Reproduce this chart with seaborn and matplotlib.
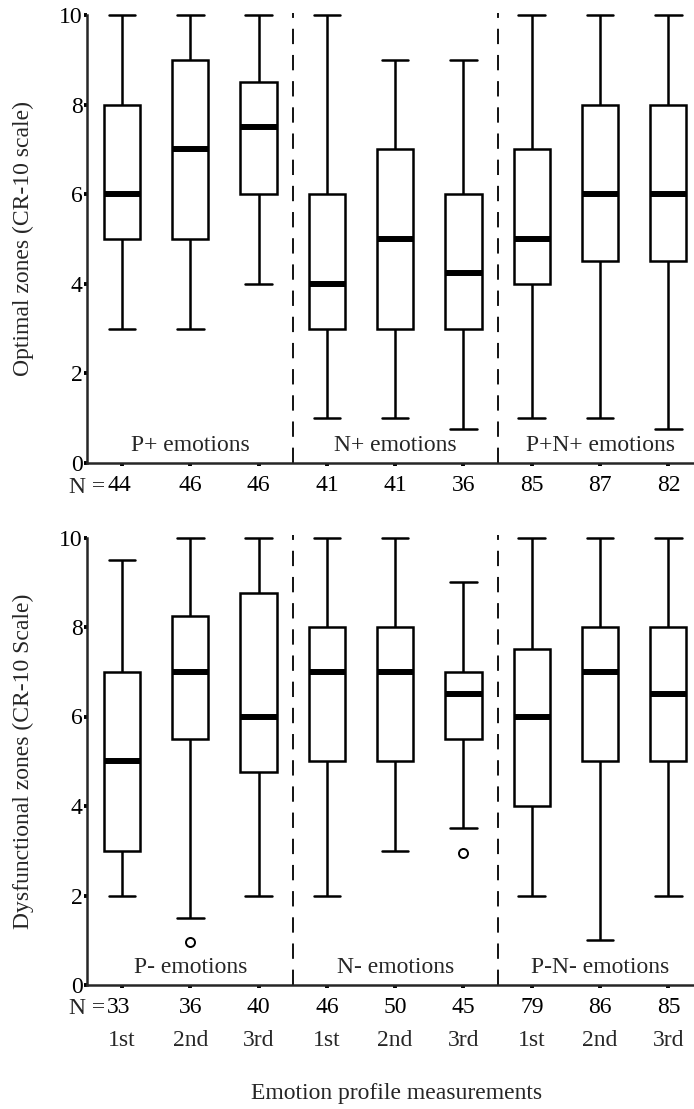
import numpy as np
import pandas as pd
import matplotlib
matplotlib.use("Agg")
import matplotlib.pyplot as plt
import matplotlib.transforms as mtransforms
import seaborn as sns

# ---- data: five-number summaries per emotion profile and measurement ----
measurements = ["1st", "2nd", "3rd"]

optimal_groups = ["P+ emotions", "N+ emotions", "P+N+ emotions"]
optimal_n = [44, 46, 46, 41, 41, 36, 85, 87, 82]
optimal_low = [3, 3, 4, 1, 1, 0.75, 1, 1, 0.75]
optimal_q1 = [5, 5, 6, 3, 3, 3, 4, 4.5, 4.5]
optimal_median = [6, 7, 7.5, 4, 5, 4.25, 5, 6, 6]
optimal_q3 = [8, 9, 8.5, 6, 7, 6, 7, 8, 8]
optimal_high = [10, 10, 10, 10, 9, 9, 10, 10, 10]
optimal_outlier_box = []
optimal_outlier_value = []

dysf_groups = ["P- emotions", "N- emotions", "P-N- emotions"]
dysf_n = [33, 36, 40, 46, 50, 45, 79, 86, 85]
dysf_low = [2, 1.5, 2, 2, 3, 3.5, 2, 1, 2]
dysf_q1 = [3, 5.5, 4.75, 5, 5, 5.5, 4, 5, 5]
dysf_median = [5, 7, 6, 7, 7, 6.5, 6, 7, 6.5]
dysf_q3 = [7, 8.25, 8.75, 8, 8, 7, 7.5, 8, 8]
dysf_high = [9.5, 10, 10, 10, 10, 9, 10, 10, 10]
dysf_outlier_box = [1, 5]
dysf_outlier_value = [0.95, 2.95]

y_ticks = [0, 2, 4, 6, 8, 10]

# ---- style ----
sns.set_style("ticks")
plt.rcParams["font.family"] = ["Liberation Serif", "DejaVu Serif"]
plt.rcParams["font.size"] = 17

W, H = 694, 1109
fig = plt.figure(figsize=(W / 100, H / 100), dpi=100)

AX_LEFT = 87
X_MIN, X_MAX = -0.512, 8.375
Y_TOP = 10.05


def box_names(groups):
    return [f"{g} | {m}" for g in groups for m in measurements]


def draw_panel(ax, groups, n, low, q1, med, q3, high, out_box, out_val,
               ylabel_text, with_order_row):
    names = box_names(groups)
    rows = []
    for i, name in enumerate(names):
        for v in (low[i], q1[i], med[i], q3[i], high[i]):
            rows.append({"box": name, "value": v})
    df = pd.DataFrame(rows)

    sns.boxplot(
        data=df, x="box", y="value", order=names, whis=np.inf,
        width=0.53, color="white", linecolor="black", saturation=1,
        linewidth=1.8, showfliers=False, capwidths=0.39,
        medianprops=dict(linewidth=4.3, color="black"),
        ax=ax,
    )
    if out_box:
        sns.stripplot(
            x=[names[i] for i in out_box], y=out_val, order=names,
            jitter=False, color="white", edgecolor="black", linewidth=1.4,
            size=6.5, ax=ax, zorder=4,
        )

    # separators between the emotion profiles
    for xs in (2.5, 5.5):
        ax.axvline(xs, color="black", lw=1.3, ls=(0, (8.5, 6)), zorder=1)

    for gi, g in enumerate(groups):
        ax.text(1 + 3 * gi, 0.4, g, ha="center", va="center")

    ax.set_xlim(X_MIN, X_MAX)
    ax.set_ylim(0, Y_TOP)
    ax.set_yticks(y_ticks)
    ax.set_yticklabels([str(t) for t in y_ticks])
    ax.set_xticks(range(len(names)))
    ax.set_xticklabels([str(v) for v in n])
    ax.set_xlabel("")
    ax.set_ylabel("")

    sns.despine(ax=ax)
    ax.spines["left"].set_bounds(0, 10)
    for s in ("left", "bottom"):
        ax.spines[s].set_linewidth(1.8)
    ax.tick_params(axis="both", direction="out", length=2.3, width=2.8,
                   color="black", labelcolor="black")
    ax.tick_params(axis="y", pad=0.8)
    ax.tick_params(axis="x", pad=6.5)

    # the first count sits a touch left of its tick, after the "N =" prefix
    first = ax.get_xticklabels()[0]
    first.set_transform(first.get_transform() + mtransforms.ScaledTranslation(
        -3 / 100, 0, fig.dpi_scale_trans))
    ax.annotate("N =", xy=(0, 0), xycoords=("data", "axes fraction"),
                xytext=(-17, -24), textcoords="offset pixels",
                ha="right", va="center")

    if with_order_row:
        for i in range(len(names)):
            ax.annotate(measurements[i % 3], xy=(i, 0),
                        xycoords=("data", "axes fraction"),
                        xytext=(0, -55), textcoords="offset pixels",
                        ha="center", va="center")

    pos = ax.get_position()
    fig.text(23 / W, pos.y0 + pos.height * (5 / Y_TOP), ylabel_text,
             rotation=90, ha="center", va="center")


def add_axes(y_zero_px, y_ten_px):
    scale = (y_zero_px - y_ten_px) / 10
    top_px = y_zero_px - scale * Y_TOP
    return fig.add_axes([AX_LEFT / W, 1 - y_zero_px / H,
                         (W - AX_LEFT) / W, (y_zero_px - top_px) / H])


ax_top = add_axes(463, 15)
ax_bot = add_axes(985, 537.5)

draw_panel(ax_top, optimal_groups, optimal_n, optimal_low, optimal_q1,
           optimal_median, optimal_q3, optimal_high,
           optimal_outlier_box, optimal_outlier_value,
           "Optimal zones (CR-10 scale)", False)
draw_panel(ax_bot, dysf_groups, dysf_n, dysf_low, dysf_q1,
           dysf_median, dysf_q3, dysf_high,
           dysf_outlier_box, dysf_outlier_value,
           "Dysfunctional zones (CR-10 Scale)", True)

fig.text(397 / W, 1 - 1093 / H, "Emotion profile measurements",
         ha="center", va="center")

fig.savefig("out.png", dpi=100, facecolor="white")
